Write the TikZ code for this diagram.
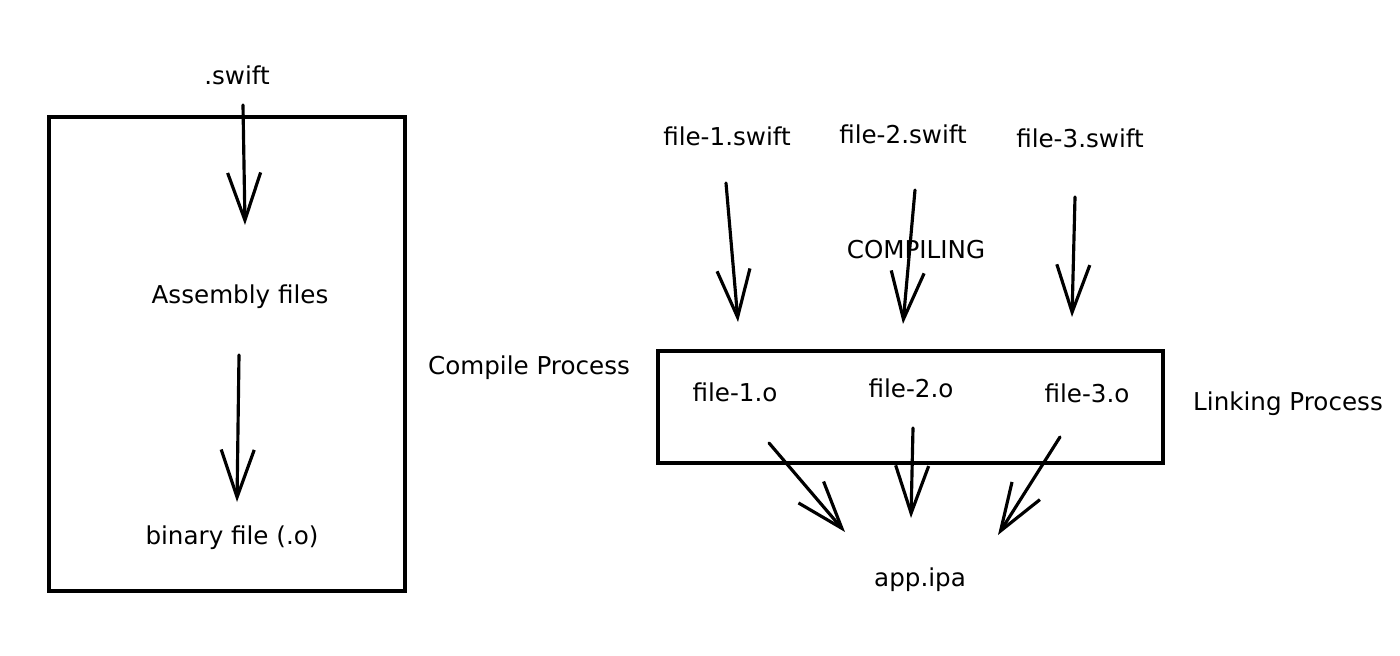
\documentclass[tikz,border=0pt]{standalone}
\usepackage{fontspec}
\setmainfont{DejaVu Sans}
\usepackage{tikz}
\usetikzlibrary{arrows.meta,positioning}

\begin{document}
\begin{tikzpicture}[
  frame/.style={rectangle, draw, line width=1.8pt, inner sep=0pt},
  label/.style={font=\fontsize{14}{16}\selectfont, align=center},
  arr/.style={-{Straight Barb[length=9.5mm, width=6.6mm, line width=1.8pt]}, line width=1.8pt, line cap=round}
]
  \useasboundingbox (0, 0) rectangle (28, 13.1);
  % Compile process (single file)
  \node[frame, minimum width=7.12cm, minimum height=9.48cm] (lbox) at (4.54, 6.02) {};
  \node[label] (swift) at (4.74, 11.60) {.swift};
  \node[label] (asm)   at (4.80,  7.16) {Assembly files};
  \node[label] (bin)   at (4.64,  2.34) {binary file (.o)};
  \node[label] (comp)  at (10.58, 5.74) {Compile Process};
  \coordinate (a1) at (4.86, 11.00);
  \coordinate (a2) at (4.90,  8.60);
  \coordinate (b1) at (4.78,  6.00);
  \coordinate (b2) at (4.74,  3.06);
  \draw[arr] (a1) -- (a2);
  \draw[arr] (b1) -- (b2);
  % Linking process
  \node[frame, minimum width=10.10cm, minimum height=2.24cm] (rbox) at (18.21, 4.96) {};
  \node[label] (f1) at (14.54, 10.38) {file-1.swift};
  \node[label] (f2) at (18.06, 10.42) {file-2.swift};
  \node[label] (f3) at (21.60, 10.34) {file-3.swift};
  \node[label] (compiling) at (18.32, 8.10) {COMPILING};
  \node[label] (o1) at (14.70, 5.26) {file-1.o};
  \node[label] (o2) at (18.22, 5.34) {file-2.o};
  \node[label] (o3) at (21.74, 5.24) {file-3.o};
  \node[label] (app)  at (18.40, 1.50) {app.ipa};
  \node[label] (link) at (25.76, 5.02) {Linking Process};
  \coordinate (s1a) at (14.52, 9.44);
  \coordinate (s1b) at (14.76, 6.66);
  \coordinate (s2a) at (18.30, 9.30);
  \coordinate (s2b) at (18.06, 6.62);
  \coordinate (s3a) at (21.50, 9.16);
  \coordinate (s3b) at (21.44, 6.76);
  \draw[arr] (s1a) -- (s1b);
  \draw[arr] (s2a) -- (s2b);
  \draw[arr] (s3a) -- (s3b);
  \coordinate (o1a) at (15.38, 4.24);
  \coordinate (o1b) at (16.90, 2.46);
  \coordinate (o2a) at (18.26, 4.54);
  \coordinate (o2b) at (18.22, 2.74);
  \coordinate (o3a) at (21.20, 4.36);
  \coordinate (o3b) at (19.96, 2.40);
  \draw[arr] (o1a) -- (o1b);
  \draw[arr] (o2a) -- (o2b);
  \draw[arr] (o3a) -- (o3b);
\end{tikzpicture}
\end{document}
